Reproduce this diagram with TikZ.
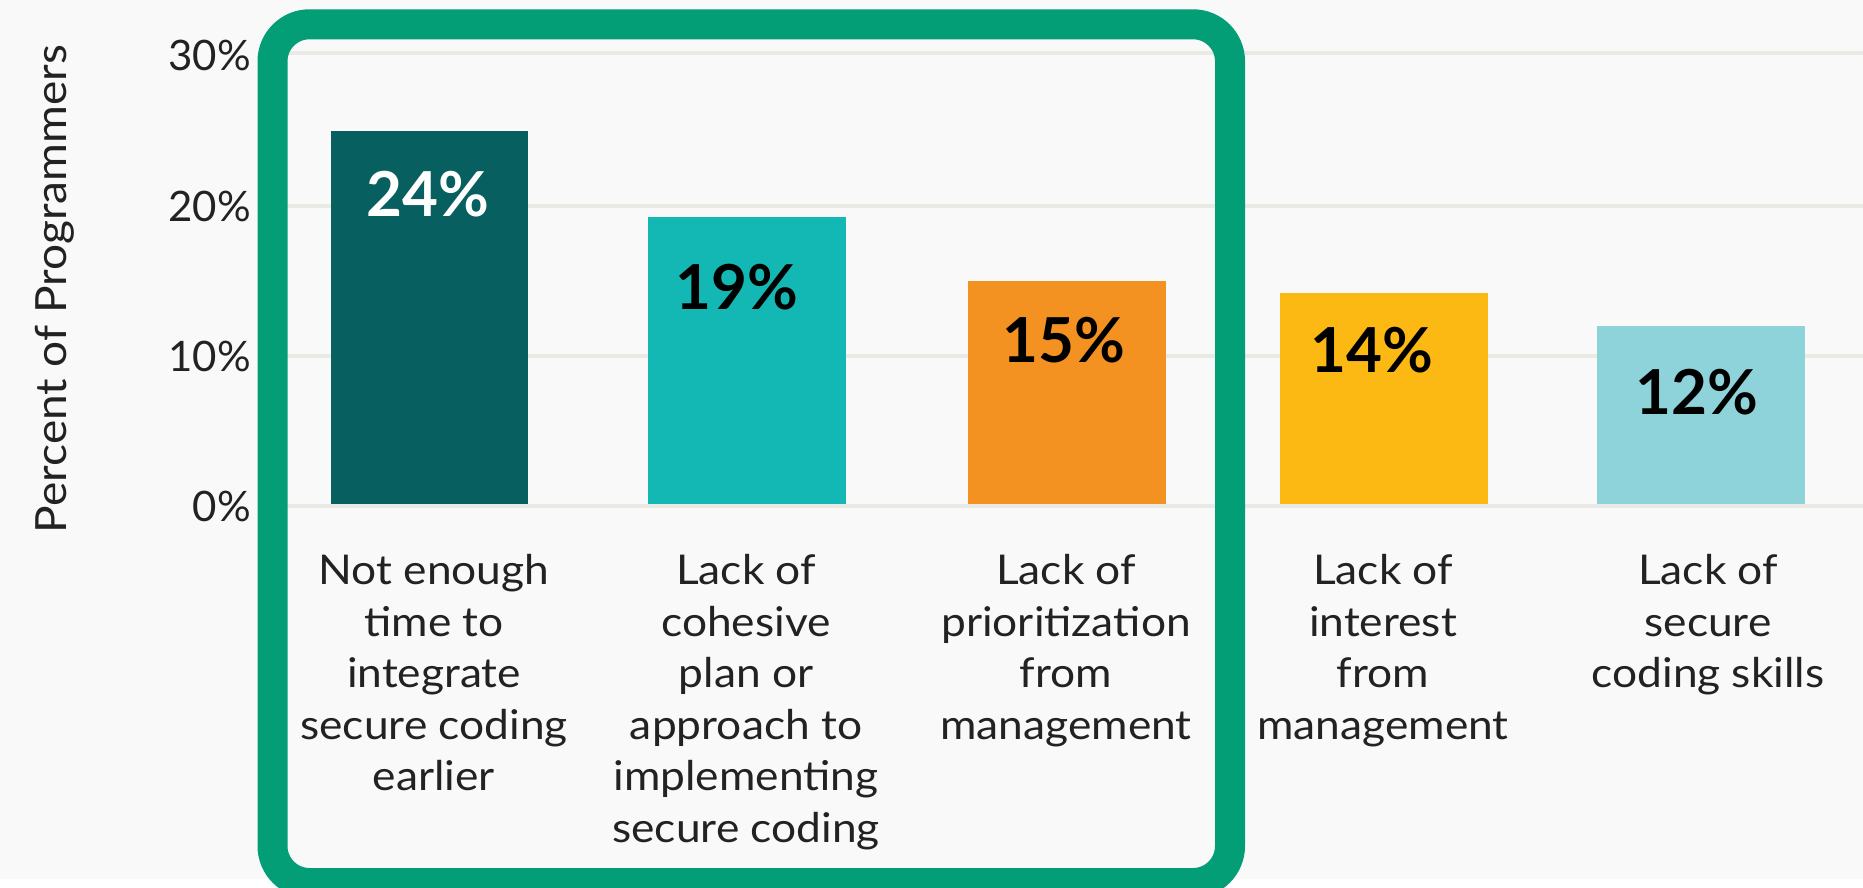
\documentclass[tikz,border=0pt]{standalone}
\usepackage{fontspec}
\setmainfont{Lato}
\newfontfamily\catfont[FakeStretch=1.08]{Lato}
\newfontfamily\titlefont[FakeStretch=1.07]{Lato}
\definecolor{bgc}{HTML}{F9F9F9}
\definecolor{gridc}{HTML}{E9EAE4}
\definecolor{boxc}{HTML}{039E76}
\definecolor{cA}{HTML}{075F5F}
\definecolor{cB}{HTML}{13B8B4}
\definecolor{cC}{HTML}{F39220}
\definecolor{cD}{HTML}{FDB913}
\definecolor{cE}{HTML}{8DD3D9}
\definecolor{txt}{HTML}{222222}
\tikzset{
  gridline/.style={draw=gridc, line width=4pt},
  tick/.style={anchor=east, inner sep=0pt, text=txt, font=\fontsize{42}{50}\selectfont},
  val/.style={inner sep=0pt, font=\fontsize{62}{70}\selectfont\bfseries},
  cat/.style={anchor=north, inner sep=0pt, align=center, text=txt, font=\catfont\fontsize{41}{51.6}\selectfont},
  ytitle/.style={inner sep=0pt, rotate=90, text=txt, font=\titlefont\fontsize{43}{50}\selectfont},
  hbox/.style={draw=boxc, line width=30pt, rounded corners=37pt}
}
\begin{document}
\begin{tikzpicture}[x=1pt, y=-1pt]
\useasboundingbox (0,0) rectangle (1863,888);
\fill[white] (0,0) rectangle (1863,888);
\fill[bgc] (0,0) rectangle (1863,879);
% gridlines
\foreach \yy in {53,206,356,506} \draw[gridline] (262,\yy) -- (1863,\yy);
% bars
\fill[cA] (331,504) rectangle (528,131);
\fill[cB] (648,504) rectangle (846,217);
\fill[cC] (968,504) rectangle (1166,281);
\fill[cD] (1280,504) rectangle (1488,293);
\fill[cE] (1597,504) rectangle (1805,326);
% values
\node[val, text=white] (v1) at (428,194.5) {24\%};
\node[val, text=black] (v2) at (737,287.5) {19\%};
\node[val, text=black] (v3) at (1064,340) {15\%};
\node[val, text=black] (v4) at (1372,350) {14\%};
\node[val, text=black] (v5) at (1697,392) {12\%};
% ticks
\node[tick] (t30) at (251,55) {30\%};
\node[tick] (t20) at (251,206) {20\%};
\node[tick] (t10) at (251,356) {10\%};
\node[tick] (t0) at (251,506) {0\%};
\node[ytitle] (yt) at (55,289) {Percent of Programmers};
% categories
\node[cat] (l1) at (434,554) {Not enough\\time to\\integrate\\secure coding\\earlier};
\node[cat] (l2) at (746,554) {Lack of\\cohesive\\plan or\\approach to\\implementing\\secure coding};
\node[cat] (l3) at (1066,554) {Lack of\\prioritization\\from\\management};
\node[cat] (l4) at (1383,554) {Lack of\\interest\\from\\management};
\node[cat] (l5) at (1708,554) {Lack of\\secure\\coding skills};
% highlight box
\draw[hbox] (272.5,24.3) rectangle (1230,883);
\end{tikzpicture}
\end{document}
